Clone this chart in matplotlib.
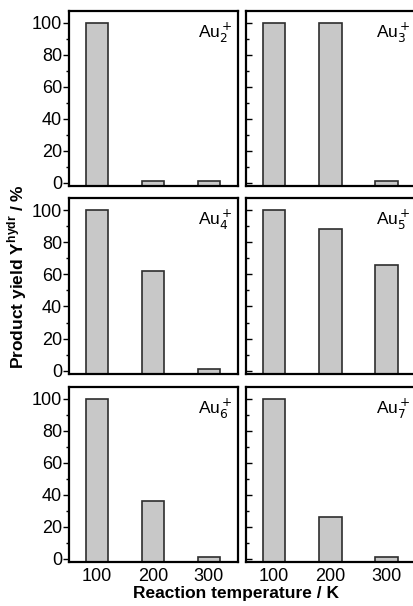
import matplotlib.pyplot as plt
from matplotlib.ticker import MultipleLocator

plt.rcParams['font.family'] = ['Liberation Sans', 'DejaVu Sans']

temps = [100, 200, 300]
clusters = ['Au$_2^+$', 'Au$_3^+$', 'Au$_4^+$', 'Au$_5^+$', 'Au$_6^+$', 'Au$_7^+$']
au2 = [100, 1, 1]
au3 = [100, 100, 1]
au4 = [100, 62, 1]
au5 = [100, 88, 66]
au6 = [100, 36, 1]
au7 = [100, 26, 1]
yields = [au2, au3, au4, au5, au6, au7]

ymin, ymax = -2, 107.5

fig = plt.figure(figsize=(4.14, 6.06), dpi=100)

# positions in pixels (left, right) and (top, bottom)
cols = [(69, 238), (246, 416)]
rows = [(11, 186), (198, 374), (387, 562)]

for i in range(6):
    r, c = divmod(i, 2)
    x0, x1 = cols[c]
    y0, y1 = rows[r]
    ax = fig.add_axes([x0 / 414, 1 - y1 / 606, (x1 - x0) / 414, (y1 - y0) / 606])
    # bars start at the bottom frame, like in the original
    heights = [v - ymin for v in yields[i]]
    ax.bar(temps, heights, bottom=ymin, width=40, color='#c8c8c8', edgecolor='#2e2e2e', linewidth=1.2)
    ax.set_xlim(50, 352)
    ax.set_ylim(ymin, ymax)
    ax.yaxis.set_major_locator(MultipleLocator(20))
    ax.yaxis.set_minor_locator(MultipleLocator(10))
    ax.set_xticks(temps)
    for s in ax.spines.values():
        s.set_linewidth(1.6)
        s.set_zorder(3)
    ax.tick_params(axis='x', length=0, labelsize=13, pad=4)
    if c == 0:
        ax.tick_params(axis='y', which='major', direction='out', length=4, width=1, labelsize=13, pad=1)
        ax.tick_params(axis='y', which='minor', direction='out', length=2, width=1)
    else:
        ax.tick_params(axis='y', which='major', direction='in', length=4, width=1, labelleft=False)
        ax.tick_params(axis='y', which='minor', direction='in', length=2, width=1)
    if r < 2:
        ax.tick_params(axis='x', labelbottom=False)
    ax.text(0.97, 0.945, clusters[i], transform=ax.transAxes, ha='right', va='top', fontsize=12.5)

fig.text(0.041, 0.543, 'Product yield Y$^{\\mathregular{hydr}}$ / %', rotation=90, ha='center', va='center',
         fontsize=12.5, fontweight='bold')
fig.text(0.571, 0.008, 'Reaction temperature / K', ha='center', va='bottom', fontsize=12.5, fontweight='bold')

fig.savefig('out.png', dpi=100)
